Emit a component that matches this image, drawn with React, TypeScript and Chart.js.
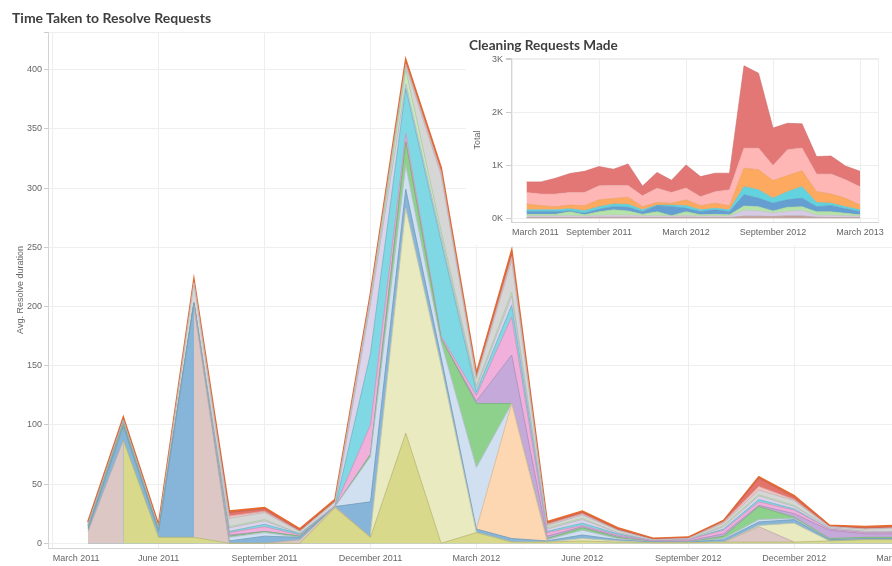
import React, { useEffect, useRef } from 'react';
import { Chart, registerables } from 'chart.js';

Chart.register(...registerables);

// ---------- categories ----------
const months = [
  'April 2011', 'May 2011', 'June 2011', 'July 2011', 'August 2011', 'September 2011',
  'October 2011', 'November 2011', 'December 2011', 'January 2012', 'February 2012', 'March 2012',
  'April 2012', 'May 2012', 'June 2012', 'July 2012', 'August 2012', 'September 2012',
  'October 2012', 'November 2012', 'December 2012', 'January 2013', 'February 2013', 'March 2013',
];

const mainXTicks = [
  'March 2011', 'June 2011', 'September 2011', 'December 2011', 'March 2012',
  'June 2012', 'September 2012', 'December 2012', 'March 2013', 'June 2013',
];
const mainYTicks = [0, 50, 100, 150, 200, 250, 300, 350, 400];

const insetXTicks = ['March 2011', 'September 2011', 'March 2012', 'September 2012', 'March 2013'];
const insetYTicks = [0, 1000, 2000, 3000];
const insetYTickLabels = ['0K', '1K', '2K', '3K'];

// ---------- main chart: Avg. Resolve duration by request type (stack order bottom -> top) ----------
const olive = [null, 87, 5, 5, 0, 0, 0, 30, 5, 93, 0, 9, 1, 1, 2, 1, 0.5, 0.5, 1, 1, 1, 2, 3, 3];
const beige = [10, 0, null, 195, 0, 0, 3, 1, 0, null, null, null, null, null, null, null, null, null, 0, 13, 0, null, null, null];
const paleYellow = [null, null, null, null, null, null, null, null, 3, 190, 150, 0, 0, 0, 2, 1, 0, 0, 0, 1, 16, 0, null, null];
const blue = [2, 12, 5, 3, 2, 6, 2, 0, 27, 16, 7, 3, 3, 1, 3, 1, 0.5, 0.5, 2, 3, 3, 1, 1, 1];
const peach = [null, null, null, null, null, null, null, null, null, null, null, 0, 114, 0, null, null, null, null, null, null, null, null, null, null];
const lightBlue = [null, null, null, 0, 3, 3, 0, 0, 38, 20, 13, 52, 0, 1, 4, 1, 0, 0, 1, 2, 1, 0, 0, 0];
const green = [1, 2, 1, 0, 1, 1, 1, 0, 2, 20, 3, 54, 0, 1, 2, 1, 0, 0, 2, 11, 1, 1, 1, 1];
const purple = [null, null, null, 0, 1, 0, 0, 0, 0, 0, 0, 2, 41, 2, 1, 1, 0.5, 1, 2, 1, 3, 7, 3, 3];
const pink = [1, 1, 0, 0, 2, 4, 1, 0, 25, 7, 2, 5, 32, 3, 1, 1, 0.5, 1, 3, 3, 3, 1, 1, 1];
const cyan = [1, 1, 0, 0, 1, 2, 1, 0, 60, 38, 80, 3, 10, 1, 2, 1, 0, 0, 1, 2, 1, 0, 0, 0];
const lavender = [0, 0, 0, 0, 3, 3, 0, 1, 42, 4, 4, 3, 8, 2, 3, 1, 0, 0, 2, 3, 2, 1, 1, 1];
const lightGreen = [0, 0, 0, 0, 1, 1, 0, 0, 2, 12, 5, 2, 3, 1, 1, 0, 0, 0, 1, 1, 1, 0, 0, 0];
const gray = [1, 1, 2, 17, 7, 6, 2, 3, 3, 3, 47, 6, 27, 2, 3, 2, 1, 1, 2, 4, 4, 1, 2, 3];
const salmon = [0, 0, 0, 0, 2, 1, 0, 0, 1, 2, 3, 1, 3, 1, 1, 0, 0, 0, 1, 3, 1, 0, 0, 0];
const red = [1, 1, 1, 0, 3, 2, 1, 1, 1, 1, 1, 1, 2, 1, 1, 1, 0.5, 0.5, 0.5, 7, 2, 0.5, 1, 1];
const orange = [1, 1, 1, 2, 1, 1, 1, 1, 1, 2, 2, 2, 3, 1, 1, 1, 0.5, 0.5, 0.5, 1, 1, 0.5, 1, 1];

const mainSeries: { name: string; color: string; values: (number | null)[] }[] = [
  { name: 'Olive', color: '#d8d98b', values: olive },
  { name: 'Beige', color: '#dcc7c5', values: beige },
  { name: 'Pale yellow', color: '#eaeac0', values: paleYellow },
  { name: 'Blue', color: '#86b5d9', values: blue },
  { name: 'Peach', color: '#fdd7b2', values: peach },
  { name: 'Light blue', color: '#d1e0f1', values: lightBlue },
  { name: 'Green', color: '#8ed18c', values: green },
  { name: 'Purple', color: '#c5a9da', values: purple },
  { name: 'Pink', color: '#f1afdc', values: pink },
  { name: 'Cyan', color: '#80d8e4', values: cyan },
  { name: 'Lavender', color: '#ddd3ea', values: lavender },
  { name: 'Light green', color: '#c6ecbd', values: lightGreen },
  { name: 'Gray', color: '#d6d6d6', values: gray },
  { name: 'Salmon', color: '#f7c4c2', values: salmon },
  { name: 'Red', color: '#e4736c', values: red },
  { name: 'Orange', color: '#ef8a4c', values: orange },
];

// ---------- inset chart: Cleaning Requests Made (stack order bottom -> top) ----------
const insetBrown = [15, 15, 15, 15, 15, 20, 20, 20, 15, 15, 15, 20, 15, 15, 15, 40, 40, 35, 45, 45, 20, 15, 15, 15];
const insetLavender = [30, 30, 30, 35, 25, 35, 40, 40, 30, 35, 25, 35, 25, 30, 25, 110, 100, 65, 85, 105, 40, 40, 35, 25];
const insetGreen = [30, 30, 30, 75, 25, 70, 100, 80, 30, 75, 10, 70, 25, 30, 25, 85, 80, 40, 80, 70, 65, 70, 45, 25];
const insetBlue = [50, 50, 50, 15, 30, 45, 60, 70, 50, 115, 170, 65, 60, 85, 60, 210, 160, 145, 140, 160, 95, 115, 85, 60];
const insetCyan = [35, 35, 35, 40, 50, 50, 50, 55, 35, 10, 30, 50, 35, 30, 35, 155, 160, 95, 155, 220, 80, 45, 40, 35];
const insetOrange = [110, 80, 60, 70, 95, 130, 105, 135, 60, 50, 35, 110, 80, 95, 80, 350, 380, 335, 305, 300, 205, 175, 160, 90];
const insetPink = [220, 220, 240, 240, 250, 265, 245, 220, 205, 270, 205, 225, 170, 220, 300, 380, 410, 285, 490, 430, 335, 380, 350, 350];
const insetRed = [200, 230, 300, 360, 400, 365, 310, 410, 185, 300, 230, 435, 380, 350, 315, 1560, 1420, 710, 500, 460, 330, 340, 260, 290];

const insetSeries: { name: string; color: string; values: number[] }[] = [
  { name: 'Brown', color: '#c4a49c', values: insetBrown },
  { name: 'Lavender', color: '#d6cbe4', values: insetLavender },
  { name: 'Green', color: '#b5e4a8', values: insetGreen },
  { name: 'Blue', color: '#659fd1', values: insetBlue },
  { name: 'Cyan', color: '#62d2df', values: insetCyan },
  { name: 'Orange', color: '#fdaa60', values: insetOrange },
  { name: 'Pink', color: '#ffb7b6', values: insetPink },
  { name: 'Red', color: '#e37776', values: insetRed },
];

// ---------- helpers ----------
const MONTH_NAMES = ['January', 'February', 'March', 'April', 'May', 'June', 'July', 'August', 'September', 'October', 'November', 'December'];
function monthPos(label: string): number {
  const [m, y] = label.split(' ');
  return (Number(y) - 2011) * 12 + MONTH_NAMES.indexOf(m) - 3;
}
function darken(hex: string, f: number): string {
  const n = parseInt(hex.slice(1), 16);
  const r = Math.round(((n >> 16) & 255) * f);
  const g = Math.round(((n >> 8) & 255) * f);
  const b = Math.round((n & 255) * f);
  return `rgb(${r},${g},${b})`;
}

const LABEL_FONT = { family: '"Liberation Sans", Arial, sans-serif', size: 9 };
const LABEL_COLOR = '#666666';
const GRID = '#eeeeee';
const AXIS = '#d4d4d4';

function MainChart() {
  const ref = useRef<HTMLCanvasElement>(null);
  useEffect(() => {
    if (!ref.current) return;
    const last = mainSeries.length - 1;
    const chart = new Chart(ref.current, {
      type: 'line',
      data: {
        datasets: mainSeries.map((s, k) => ({
          label: s.name,
          data: s.values.map((v, i) => ({ x: monthPos(months[i]), y: v })),
          backgroundColor: s.color,
          borderColor: k === last ? '#e8692c' : darken(s.color, 0.85),
          borderWidth: k === last ? 2 : 0.8,
          fill: 'origin',
          pointRadius: 0,
          tension: 0,
          spanGaps: false,
        })),
      },
      options: {
        animation: false,
        responsive: false,
        maintainAspectRatio: false,
        events: [],
        layout: { padding: { top: 32, right: 34, bottom: 0, left: 0 } },
        plugins: { legend: { display: false }, tooltip: { enabled: false } },
        scales: {
          x: {
            type: 'linear',
            min: -1.133,
            max: 26,
            afterBuildTicks: (s: any) => {
              s.ticks = mainXTicks.map((l) => ({ value: monthPos(l) }));
            },
            afterFit: (s: any) => {
              s.height = 18;
            },
            ticks: {
              autoSkip: false,
              maxRotation: 0,
              align: 'inner',
              padding: 5,
              font: LABEL_FONT,
              color: LABEL_COLOR,
              callback: (v: any) => {
                const idx = mainXTicks.findIndex((l) => monthPos(l) === v);
                return idx >= 0 ? mainXTicks[idx] : '';
              },
            },
            grid: { color: GRID, drawTicks: false },
            border: { color: AXIS },
          },
          y: {
            type: 'linear',
            stacked: true,
            min: -4,
            max: 431.8,
            afterBuildTicks: (s: any) => {
              s.ticks = [...mainYTicks.map((v) => ({ value: v })), { value: 431.8 }];
            },
            afterFit: (s: any) => {
              s.width = 48;
            },
            ticks: {
              padding: 2,
              font: LABEL_FONT,
              color: LABEL_COLOR,
              callback: (v: any) => (mainYTicks.includes(v) ? String(v) : ''),
            },
            grid: { color: GRID, tickLength: 4, tickColor: '#cccccc' },
            border: { color: AXIS },
            title: {
              display: true,
              text: 'Avg. Resolve duration',
              font: LABEL_FONT,
              color: LABEL_COLOR,
              padding: { top: 15, bottom: 0 },
            },
          },
        },
      } as any,
    });
    return () => chart.destroy();
  }, []);
  return <canvas ref={ref} width={1040} height={566} style={{ position: 'absolute', left: 0, top: 0, width: 1040, height: 566 }} />;
}

function InsetChart() {
  const ref = useRef<HTMLCanvasElement>(null);
  useEffect(() => {
    if (!ref.current) return;
    const xMax = 24.24;
    const yMax = 3037;
    const chart = new Chart(ref.current, {
      type: 'line',
      data: {
        datasets: insetSeries.map((s, k) => ({
          label: s.name,
          data: s.values.map((v, i) => ({ x: monthPos(months[i]), y: v })),
          backgroundColor: s.color,
          borderColor: darken(s.color, 0.9),
          borderWidth: 0.6,
          fill: k === 0 ? 'origin' : '-1',
          pointRadius: 0,
          tension: 0,
        })),
      },
      options: {
        animation: false,
        responsive: false,
        maintainAspectRatio: false,
        events: [],
        layout: { padding: { top: 25, right: 14, bottom: 0, left: 0 } },
        plugins: { legend: { display: false }, tooltip: { enabled: false } },
        scales: {
          x: {
            type: 'linear',
            min: -1.069,
            max: xMax,
            afterBuildTicks: (s: any) => {
              s.ticks = [...insetXTicks.map((l) => ({ value: monthPos(l) })), { value: xMax }];
            },
            afterFit: (s: any) => {
              s.height = 23;
            },
            ticks: {
              autoSkip: false,
              maxRotation: 0,
              align: 'inner',
              padding: 5,
              font: LABEL_FONT,
              color: LABEL_COLOR,
              callback: (v: any) => {
                const idx = insetXTicks.findIndex((l) => monthPos(l) === v);
                return idx >= 0 ? insetXTicks[idx] : '';
              },
            },
            grid: { color: GRID, drawTicks: false },
            border: { color: AXIS },
          },
          y: {
            type: 'linear',
            stacked: true,
            min: -70,
            max: yMax,
            afterBuildTicks: (s: any) => {
              s.ticks = [...insetYTicks.map((v) => ({ value: v })), { value: yMax }];
            },
            afterFit: (s: any) => {
              s.width = 45;
            },
            ticks: {
              padding: 3,
              font: LABEL_FONT,
              color: LABEL_COLOR,
              callback: (v: any) => {
                const idx = insetYTicks.indexOf(v);
                return idx >= 0 ? insetYTickLabels[idx] : '';
              },
            },
            grid: { color: GRID, tickLength: 5, tickColor: '#cccccc' },
            border: { color: AXIS },
            title: {
              display: true,
              text: 'Total',
              font: LABEL_FONT,
              color: LABEL_COLOR,
              padding: { top: 6, bottom: 0 },
            },
          },
        },
      } as any,
    });
    return () => chart.destroy();
  }, []);
  return <canvas ref={ref} width={426} height={212} style={{ position: 'absolute', left: 0, top: 0, width: 426, height: 212 }} />;
}

const titleStyle: React.CSSProperties = {
  position: 'absolute',
  fontFamily: 'Lato, "Open Sans", sans-serif',
  fontWeight: 700,
  fontSize: 13.6,
  lineHeight: '16px',
  color: '#3f3f3f',
  whiteSpace: 'nowrap',
};

export default function App() {
  return (
    <div style={{ position: 'absolute', left: 0, top: 0, width: 892, height: 566, overflow: 'hidden', background: '#ffffff' }}>
      <MainChart />
      <div style={{ ...titleStyle, left: 12, top: 10, fontSize: 14 }}>Time Taken to Resolve Requests</div>
      <div style={{ position: 'absolute', left: 466, top: 33, width: 426, height: 212, background: '#ffffff' }}>
        <InsetChart />
        <div style={{ ...titleStyle, left: 3, top: 4 }}>Cleaning Requests Made</div>
      </div>
    </div>
  );
}
